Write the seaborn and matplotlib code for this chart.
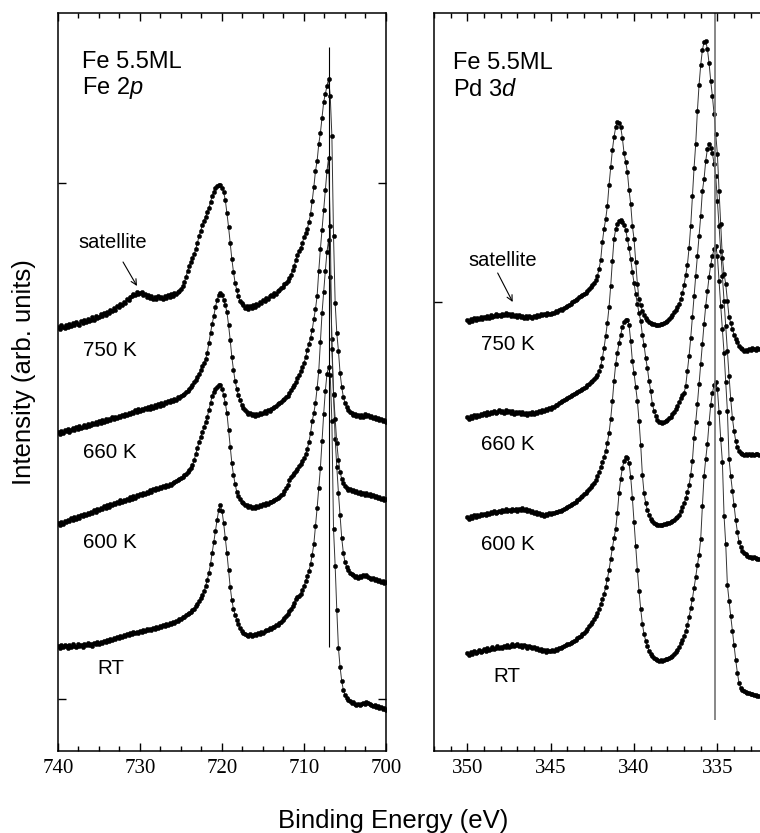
import numpy as np
import pandas as pd
import matplotlib
matplotlib.use("Agg")
import matplotlib.pyplot as plt
import seaborn as sns
from matplotlib.ticker import MultipleLocator, FixedLocator, NullFormatter

# ---------------------------------------------------------------------------
# Fe 2p spectra, binding energy 740 -> 700 eV in 0.2 eV steps (201 points)
# ---------------------------------------------------------------------------
fe_energy = np.round(np.arange(740.0, 699.9, -0.2), 1)

fe_750K = [
    424, 422, 426, 424, 423, 426, 424, 427, 425, 428,
    426, 429, 427, 426, 430, 428, 431, 429, 432, 430,
    431, 434, 431, 435, 433, 434, 437, 435, 438, 436,
    439, 438, 441, 440, 443, 441, 445, 444, 447, 446,
    449, 448, 452, 451, 454, 455, 457, 456, 459, 457,
    458, 459, 456, 457, 454, 456, 453, 455, 452, 454,
    452, 455, 453, 454, 452, 455, 453, 456, 454, 457,
    455, 458, 457, 459, 460, 462, 465, 469, 474, 480,
    485, 489, 493, 497, 502, 508, 515, 520, 526, 530,
    534, 539, 543, 549, 555, 559, 563, 565, 566, 566,
    563, 559, 551, 538, 524, 508, 492, 479, 468, 461,
    455, 450, 448, 446, 443, 445, 442, 445, 443, 446,
    444, 447, 446, 449, 448, 451, 450, 453, 452, 455,
    456, 455, 458, 457, 460, 461, 463, 464, 467, 468,
    470, 473, 476, 481, 485, 491, 496, 500, 503, 508,
    514, 518, 522, 529, 537, 550, 564, 580, 590, 607,
    618, 633, 649, 657, 665, 672, 655, 615, 515, 448,
    418, 400, 378, 364, 354, 348, 344, 341, 339, 338,
    336, 337, 335, 336, 334, 336, 334, 337, 335, 336,
    334, 335, 333, 334, 332, 333, 331, 332, 330, 331,
    329,
]

fe_660K = [
    319, 317, 320, 318, 321, 320, 322, 319, 321, 323,
    321, 324, 322, 325, 323, 324, 326, 324, 327, 325,
    326, 328, 327, 329, 327, 330, 328, 331, 329, 332,
    330, 332, 331, 334, 332, 334, 333, 335, 334, 336,
    335, 337, 336, 338, 337, 339, 338, 341, 339, 342,
    340, 342, 341, 343, 342, 344, 342, 345, 343, 346,
    344, 347, 345, 348, 346, 349, 348, 350, 349, 351,
    350, 352, 351, 354, 353, 355, 356, 357, 359, 360,
    362, 364, 366, 369, 371, 374, 377, 381, 385, 388,
    392, 398, 408, 418, 427, 435, 444, 451, 456, 458,
    456, 451, 446, 439, 426, 411, 394, 381, 370, 362,
    356, 351, 346, 343, 341, 339, 337, 338, 336, 337,
    335, 337, 336, 338, 337, 338, 340, 338, 341, 340,
    342, 343, 344, 345, 347, 348, 349, 351, 352, 354,
    355, 358, 361, 364, 366, 369, 373, 376, 380, 384,
    388, 394, 401, 407, 413, 421, 432, 442, 455, 480,
    502, 521, 541, 561, 580, 593, 525, 402, 357, 332,
    308, 291, 279, 272, 268, 265, 263, 261, 262, 260,
    261, 259, 260, 258, 259, 257, 258, 256, 258, 256,
    257, 255, 256, 254, 255, 253, 254, 252, 253, 251,
    252,
]

fe_600K = [
    228, 226, 229, 227, 230, 229, 231, 230, 233, 231,
    234, 232, 235, 233, 236, 235, 237, 236, 238, 237,
    239, 238, 241, 239, 242, 241, 243, 242, 245, 243,
    246, 244, 247, 246, 248, 247, 249, 248, 251, 249,
    251, 250, 252, 251, 254, 252, 255, 253, 256, 255,
    257, 256, 258, 257, 259, 258, 261, 259, 262, 261,
    263, 262, 264, 263, 265, 264, 266, 265, 267, 266,
    268, 269, 270, 271, 272, 273, 274, 276, 277, 279,
    281, 283, 286, 291, 297, 303, 309, 314, 319, 324,
    329, 334, 341, 348, 355, 359, 362, 364, 366, 366,
    362, 356, 348, 338, 321, 304, 288, 276, 267, 259,
    255, 252, 249, 248, 246, 246, 244, 245, 243, 244,
    243, 245, 244, 246, 245, 247, 246, 248, 247, 249,
    249, 250, 251, 252, 253, 254, 256, 257, 260, 263,
    266, 271, 274, 276, 278, 280, 282, 285, 287, 290,
    293, 297, 302, 309, 318, 330, 338, 348, 363, 380,
    409, 438, 459, 480, 499, 511, 474, 412, 356, 312,
    284, 258, 236, 213, 198, 189, 184, 181, 178, 177,
    176, 174, 175, 173, 175, 174, 176, 175, 176, 174,
    173, 172, 173, 171, 172, 170, 171, 169, 170, 168,
    169,
]

fe_RT = [
    105, 103, 106, 104, 106, 105, 103, 106, 104, 107,
    105, 104, 107, 105, 106, 104, 107, 106, 108, 106,
    107, 105, 108, 107, 109, 107, 109, 108, 110, 109,
    111, 110, 112, 111, 113, 112, 114, 113, 115, 114,
    116, 115, 117, 116, 118, 117, 119, 118, 119, 118,
    120, 119, 121, 120, 122, 121, 122, 121, 123, 122,
    124, 123, 125, 124, 126, 125, 127, 126, 128, 127,
    129, 128, 130, 130, 132, 132, 134, 134, 136, 137,
    138, 139, 141, 142, 145, 147, 150, 153, 156, 160,
    165, 171, 178, 187, 198, 209, 220, 231, 241, 246,
    240, 228, 213, 198, 181, 164, 151, 142, 136, 131,
    127, 123, 120, 118, 117, 116, 115, 117, 115, 116,
    117, 116, 118, 117, 119, 118, 120, 121, 121, 123,
    122, 124, 124, 126, 126, 128, 129, 131, 133, 135,
    137, 140, 142, 145, 148, 152, 154, 155, 157, 161,
    165, 170, 175, 180, 187, 196, 207, 225, 243, 263,
    283, 310, 337, 360, 377, 384, 376, 330, 222, 185,
    141, 103, 84, 70, 61, 56, 53, 51, 50, 48,
    49, 47, 46, 47, 46, 47, 48, 47, 49, 48,
    47, 46, 45, 46, 44, 45, 43, 44, 42, 43,
    41,
]

# ---------------------------------------------------------------------------
# Pd 3d spectra, binding energy 350 -> 332.5 eV in 0.1 eV steps (176 points)
# ---------------------------------------------------------------------------
pd_energy = np.round(np.arange(350.0, 332.45, -0.1), 1)

pd_750K = [
    431, 429, 432, 430, 433, 431, 433, 432, 434, 432,
    434, 433, 435, 433, 436, 434, 435, 437, 435, 436,
    435, 437, 436, 438, 436, 437, 435, 437, 435, 436,
    434, 436, 434, 435, 433, 435, 433, 435, 434, 433,
    435, 434, 436, 435, 437, 436, 437, 436, 438, 437,
    437, 438, 438, 440, 439, 441, 442, 441, 443, 444,
    445, 446, 447, 449, 450, 451, 452, 454, 455, 456,
    457, 458, 460, 462, 464, 466, 468, 471, 475, 482,
    491, 509, 522, 532, 545, 566, 584, 601, 614, 624,
    629, 628, 624, 613, 598, 589, 579, 561, 547, 525,
    512, 489, 467, 452, 446, 440, 436, 433, 431, 429,
    428, 427, 427, 426, 426, 426, 427, 427, 428, 429,
    430, 432, 434, 436, 439, 441, 444, 447, 452, 458,
    466, 476, 486, 503, 525, 555, 583, 607, 640, 666,
    686, 701, 709, 710, 702, 688, 670, 655, 637, 617,
    597, 560, 527, 493, 477, 467, 450, 434, 428, 422,
    416, 412, 409, 405, 403, 402, 400, 401, 400, 402,
    401, 403, 402, 401, 403, 402,
]

pd_660K = [
    334, 332, 335, 333, 336, 334, 336, 335, 337, 336,
    338, 336, 339, 337, 339, 338, 340, 338, 339, 341,
    339, 340, 338, 341, 339, 340, 338, 340, 337, 339,
    338, 339, 337, 339, 337, 338, 336, 338, 337, 339,
    337, 339, 338, 340, 339, 341, 340, 342, 341, 343,
    342, 344, 344, 346, 346, 348, 349, 350, 351, 352,
    353, 354, 355, 356, 357, 358, 359, 360, 361, 362,
    363, 364, 366, 367, 369, 370, 372, 374, 376, 380,
    385, 393, 403, 415, 428, 444, 465, 490, 512, 522,
    527, 530, 531, 529, 526, 521, 512, 503, 492, 479,
    468, 457, 447, 438, 430, 416, 406, 393, 383, 370,
    360, 347, 340, 335, 331, 329, 329, 328, 329, 330,
    331, 333, 334, 337, 339, 342, 345, 349, 353, 356,
    358, 365, 380, 395, 413, 434, 455, 475, 495, 515,
    535, 560, 572, 590, 602, 607, 603, 598, 587, 575,
    550, 525, 500, 475, 450, 425, 400, 375, 352, 333,
    320, 310, 304, 300, 298, 297, 296, 297, 296, 297,
    296, 297, 296, 297, 297, 296,
]

pd_600K = [
    234, 232, 235, 233, 236, 234, 236, 235, 237, 236,
    237, 236, 238, 237, 239, 238, 240, 238, 239, 240,
    239, 241, 240, 242, 240, 241, 240, 242, 241, 242,
    240, 242, 241, 243, 241, 242, 240, 241, 239, 240,
    238, 239, 237, 238, 236, 237, 235, 237, 236, 238,
    237, 238, 238, 239, 239, 240, 240, 241, 242, 243,
    244, 245, 246, 247, 248, 249, 251, 252, 254, 255,
    257, 258, 260, 262, 264, 266, 268, 271, 275, 279,
    284, 289, 294, 300, 308, 318, 332, 350, 370, 387,
    398, 408, 416, 424, 429, 431, 431, 426, 410, 390,
    378, 364, 350, 330, 306, 276, 258, 248, 241, 236,
    232, 230, 228, 227, 226, 226, 226, 226, 227, 227,
    228, 228, 229, 230, 231, 233, 234, 236, 240, 244,
    248, 253, 259, 266, 276, 290, 313, 329, 347, 367,
    387, 407, 427, 445, 460, 474, 486, 495, 502, 505,
    495, 470, 445, 422, 398, 369, 340, 292, 275, 260,
    246, 231, 219, 209, 204, 200, 198, 197, 195, 194,
    194, 193, 194, 193, 192, 192,
]

pd_RT = [
    98, 96, 99, 97, 100, 98, 99, 101, 99, 100,
    102, 100, 103, 101, 102, 104, 102, 103, 105, 103,
    104, 103, 105, 104, 106, 104, 105, 107, 105, 106,
    107, 105, 106, 104, 106, 105, 103, 105, 104, 103,
    104, 102, 103, 101, 102, 100, 101, 99, 101, 100,
    100, 101, 100, 102, 101, 103, 103, 104, 105, 106,
    107, 107, 108, 109, 110, 111, 113, 114, 115, 117,
    118, 120, 122, 125, 127, 129, 132, 135, 138, 142,
    147, 152, 157, 164, 172, 181, 192, 203, 213, 222,
    238, 258, 272, 283, 290, 294, 293, 288, 274, 253,
    229, 205, 181, 160, 142, 127, 117, 110, 105, 100,
    97, 95, 93, 92, 91, 90, 91, 90, 91, 92,
    92, 93, 94, 95, 97, 99, 101, 104, 108, 111,
    115, 120, 126, 134, 143, 152, 163, 174, 186, 196,
    212, 245, 275, 292, 307, 328, 346, 358, 366, 369,
    362, 339, 312, 289, 235, 207, 166, 150, 135, 120,
    106, 91, 78, 68, 63, 61, 60, 59, 58, 58,
    57, 57, 56, 56, 55, 55,
]

samples = ["750 K", "660 K", "600 K", "RT"]


def long_frame(energy, curves):
    parts = [pd.DataFrame({"energy": energy, "intensity": vals, "sample": name})
             for name, vals in zip(samples, curves)]
    return pd.concat(parts, ignore_index=True)


fe_df = long_frame(fe_energy, [fe_750K, fe_660K, fe_600K, fe_RT])
pd_df = long_frame(pd_energy, [pd_750K, pd_660K, pd_600K, pd_RT])

# ---------------------------------------------------------------------------
sns.set_style("ticks")
plt.rcParams["font.family"] = ["Liberation Sans", "DejaVu Sans"]
plt.rcParams["mathtext.fontset"] = "custom"
plt.rcParams["mathtext.rm"] = "Liberation Sans"
plt.rcParams["mathtext.it"] = "Liberation Sans:italic"
for key in ("text.color", "axes.labelcolor", "xtick.color", "ytick.color",
            "axes.edgecolor"):
    plt.rcParams[key] = "black"

W, H = 760, 833
fig = plt.figure(figsize=(W / 100, H / 100), dpi=100)

y_top, y_bot = 13, 751
ax_h = (y_bot - y_top) / H
ax_b = (H - y_bot) / H
ax_fe = fig.add_axes([58 / W, ax_b, (386 - 58) / W, ax_h])
ax_pd = fig.add_axes([434 / W, ax_b, (800 - 434) / W, ax_h])

line_kw = dict(x="energy", y="intensity", units="sample", estimator=None,
               sort=False, color="0.2", linewidth=0.7, marker="o",
               markersize=3.1, markerfacecolor="black",
               markeredgecolor="black", markeredgewidth=0.3, legend=False)

sns.lineplot(data=fe_df, ax=ax_fe, **line_kw)
sns.lineplot(data=pd_df, ax=ax_pd, **line_kw)

ax_fe.set_xlim(740, 700)
ax_pd.set_xlim(352.0, 352.0 - (800 - 434) / 16.67)
ax_fe.xaxis.set_major_locator(MultipleLocator(10))
ax_fe.xaxis.set_minor_locator(MultipleLocator(2.5))
ax_pd.xaxis.set_major_locator(MultipleLocator(5))
ax_pd.xaxis.set_minor_locator(MultipleLocator(1))
ax_fe.yaxis.set_major_locator(FixedLocator([52, 568]))
ax_pd.yaxis.set_major_locator(FixedLocator([449]))

for ax in (ax_fe, ax_pd):
    ax.set_ylim(0, y_bot - y_top)
    ax.set_xlabel("")
    ax.set_ylabel("")
    for sp in ax.spines.values():
        sp.set_linewidth(1.1)
        sp.set_color("black")
    ax.tick_params(which="both", direction="in", top=True, right=True,
                   color="black", width=1.0)
    ax.tick_params(which="major", length=6)
    ax.tick_params(which="minor", length=3.5)
    ax.tick_params(axis="x", which="major", pad=6)
    ax.yaxis.set_major_formatter(NullFormatter())
    for lab in ax.get_xticklabels():
        lab.set_fontfamily("Liberation Serif")
        lab.set_fontsize(15)
        lab.set_color("black")

# peak reference lines
ax_fe.vlines(707.0, 104, 704, color="black", linewidth=0.8)
ax_pd.vlines(335.16, 31, 740, color="0.45", linewidth=1.2)

# panel titles
title_kw = dict(fontsize=17, ha="left", va="baseline")
ax_fe.text(737.07, 683, "Fe 5.5ML", **title_kw)
ax_fe.text(737.07, 657, r"Fe 2$\it{p}$", **title_kw)
ax_pd.text(350.88, 682, "Fe 5.5ML", **title_kw)
ax_pd.text(350.88, 655, r"Pd 3$\it{d}$", **title_kw)

# satellite markers
ax_fe.text(737.56, 508, "satellite", fontsize=14.5, ha="left", va="center")
ax_fe.annotate("", xy=(730.37, 465), xytext=(732.07, 489),
               arrowprops=dict(arrowstyle="->", color="black", lw=0.8,
                               shrinkA=0, shrinkB=0))
ax_pd.text(349.92, 491, "satellite", fontsize=14.5, ha="left", va="center")
ax_pd.annotate("", xy=(347.28, 449), xytext=(348.18, 478),
               arrowprops=dict(arrowstyle="->", color="black", lw=0.8,
                               shrinkA=0, shrinkB=0))

# temperature labels
fe_label_pos = [(736.95, 401), (736.95, 299), (736.95, 208), (735.24, 83)]
pd_label_pos = [(349.2, 406), (349.2, 306), (349.2, 206), (348.42, 74)]
for name, (x, y) in zip(samples, fe_label_pos):
    ax_fe.text(x, y, name, fontsize=14.8, ha="left", va="center")
for name, (x, y) in zip(samples, pd_label_pos):
    ax_pd.text(x, y, name, fontsize=14.8, ha="left", va="center")

fig.text(24 / W, (H - 372) / H, "Intensity (arb. units)", rotation=90,
         fontsize=18.5, ha="center", va="center")
fig.text(393 / W, (H - 821) / H, "Binding Energy (eV)", fontsize=18.5,
         ha="center", va="center")

fig.savefig("out.png", dpi=100)
